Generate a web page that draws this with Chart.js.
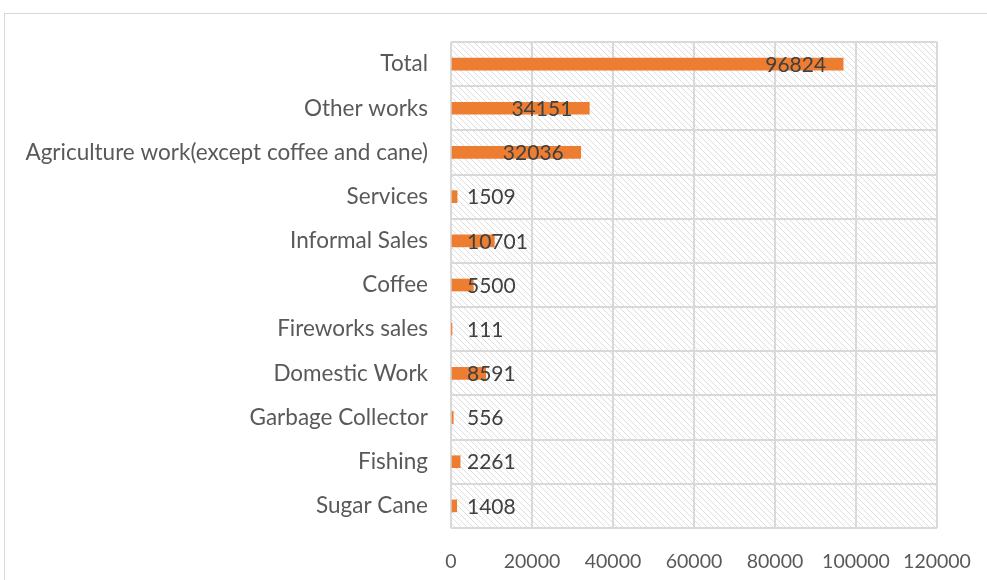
<!DOCTYPE html>
<html>
<head>
<meta charset="utf-8">
<script src="https://cdn.jsdelivr.net/npm/chart.js@4.4.1/dist/chart.umd.min.js"></script>
<style>
  html, body { margin: 0; padding: 0; background: #fff; overflow: hidden; }
  #frame { position: absolute; left: 4px; top: 13px; width: 1100px; height: 700px; border: 1px solid #d9d9d9; box-sizing: border-box; }
  #wrap { position: absolute; left: 0; top: 0; width: 987px; height: 580px; }
</style>
</head>
<body>
<div id="frame"></div>
<div id="wrap"><canvas id="c" width="987" height="580"></canvas></div>
<script>
const categories = [
  "Total",
  "Other works",
  "Agriculture work(except coffee and cane)",
  "Services",
  "Informal Sales",
  "Coffee",
  "Fireworks sales",
  "Domestic Work",
  "Garbage Collector",
  "Fishing",
  "Sugar Cane"
];
const values = [96824, 34151, 32036, 1509, 10701, 5500, 111, 8591, 556, 2261, 1408];
const xTicks = [0, 20000, 40000, 60000, 80000, 100000, 120000];

const FONT = "Lato, 'Open Sans', sans-serif";

function makeHatch() {
  const s = 6;
  const p = document.createElement('canvas');
  p.width = s; p.height = s;
  const g = p.getContext('2d');
  g.fillStyle = '#ffffff';
  g.fillRect(0, 0, s, s);
  g.strokeStyle = '#dedede';
  g.lineWidth = 1;
  g.beginPath();
  g.moveTo(-1, -1); g.lineTo(s + 1, s + 1);
  g.moveTo(-1, s - 1); g.lineTo(1, s + 1);
  g.moveTo(s - 1, -1); g.lineTo(s + 1, 1);
  g.stroke();
  return p;
}

const hatchPlugin = {
  id: 'hatch',
  beforeDraw(chart) {
    const { ctx, chartArea: a } = chart;
    ctx.save();
    ctx.fillStyle = ctx.createPattern(makeHatch(), 'repeat');
    ctx.fillRect(a.left, a.top, a.right - a.left, a.bottom - a.top);
    ctx.restore();
  }
};

const labelPlugin = {
  id: 'vlabels',
  afterDatasetsDraw(chart) {
    const { ctx, chartArea: a } = chart;
    const meta = chart.getDatasetMeta(0);
    ctx.save();
    ctx.font = "21px " + FONT;
    ctx.fillStyle = '#404040';
    ctx.textAlign = 'right';
    ctx.textBaseline = 'middle';
    meta.data.forEach((bar, i) => {
      const txt = String(values[i]);
      const w = ctx.measureText(txt).width;
      const right = Math.max(bar.x - 17, a.left + 16 + w);
      ctx.fillText(txt, right, bar.y + 1);
    });
    ctx.restore();
  }
};

new Chart(document.getElementById('c'), {
  type: 'bar',
  data: {
    labels: categories,
    datasets: [{
      data: values,
      backgroundColor: '#ED7D31',
      barThickness: 12
    }]
  },
  options: {
    indexAxis: 'y',
    responsive: false,
    animation: false,
    devicePixelRatio: 1,
    layout: { padding: { top: 42, right: 50, left: 0, bottom: 0 } },
    plugins: { legend: { display: false }, tooltip: { enabled: false } },
    scales: {
      x: {
        min: 0, max: 120000,
        afterBuildTicks(axis) { axis.ticks = xTicks.map(v => ({ value: v })); },
        afterFit(axis) { axis.height = 52; axis.paddingLeft = 0; axis.paddingRight = 0; },
        grid: { color: '#d9d9d9', lineWidth: 2, drawTicks: false },
        border: { display: false },
        ticks: {
          autoSkip: false, maxRotation: 0, padding: 22,
          color: '#595959',
          font: { family: FONT, size: 19.5 },
          callback(v) { return String(v); }
        }
      },
      y: {
        afterFit(axis) { axis.width = 451; axis.paddingTop = 0; axis.paddingBottom = 0; },
        grid: { color: '#d9d9d9', lineWidth: 2, drawTicks: false, offset: true },
        border: { display: false },
        ticks: {
          autoSkip: false, padding: 23,
          color: '#595959',
          font: { family: FONT, size: 22.5 }
        }
      }
    }
  },
  plugins: [hatchPlugin, labelPlugin]
});
</script>
</body>
</html>
